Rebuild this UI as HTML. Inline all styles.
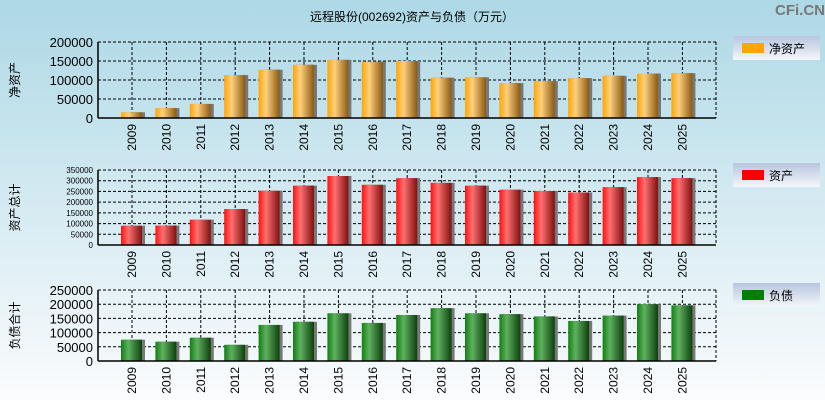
<!DOCTYPE html>
<html><head><meta charset="utf-8"><style>
body{margin:0;width:825px;height:400px;overflow:hidden;font-family:"Liberation Sans","Noto Sans CJK SC",sans-serif;}
</style></head><body>
<svg id="c" width="825" height="400" xmlns="http://www.w3.org/2000/svg">
<defs>
<linearGradient id="bg" x1="0" y1="0" x2="0" y2="1"><stop offset="0" stop-color="#add8e6"/><stop offset="1" stop-color="#fbfcfd"/></linearGradient>
<linearGradient id="lg" x1="0" y1="0" x2="0" y2="1"><stop offset="0" stop-color="#b8c6de"/><stop offset="1" stop-color="#f4f6fa"/></linearGradient>
<linearGradient id="g0" x1="0" x2="1"><stop offset="0" stop-color="#ffa500"/><stop offset="0.35" stop-color="#ffd080"/><stop offset="1" stop-color="#8a5a10"/></linearGradient>
<linearGradient id="g1" x1="0" x2="1"><stop offset="0" stop-color="#ff1010"/><stop offset="0.35" stop-color="#ff7070"/><stop offset="1" stop-color="#801010"/></linearGradient>
<linearGradient id="g2" x1="0" x2="1"><stop offset="0" stop-color="#108010"/><stop offset="0.35" stop-color="#60b060"/><stop offset="1" stop-color="#0c400c"/></linearGradient>
</defs>
<rect width="825" height="400" fill="url(#bg)"/>
<text x="412" y="21" font-size="12" text-anchor="middle">远程股份(002692)资产与负债（万元）</text>
<text x="800" y="15" font-size="15" font-weight="bold" fill="#777" text-anchor="middle">CFi.CN</text>
</svg>
<script>
const years=["2009","2010","2011","2012","2013","2014","2015","2016","2017","2018","2019","2020","2021","2022","2023","2024","2025"];
const netAssets=[15000,26000,37000,113000,127000,140000,153000,148000,150000,106000,107000,92000,97000,105000,111000,117000,118000];
const totalAssets=[90000,91000,118000,168000,253000,277000,322000,281000,312000,290000,277000,258000,252000,245000,270000,317000,312000];
const liabilities=[75000,68000,82000,57000,127000,138000,168000,134000,162000,186000,168000,165000,157000,141000,160000,200000,196000];
const ticks0=[0,50000,100000,150000,200000];
const ticks1=[0,50000,100000,150000,200000,250000,300000,350000];
const ticks2=[0,50000,100000,150000,200000,250000];
const svg=document.getElementById('c');
const NS='http://www.w3.org/2000/svg';
function mk(t,a,txt){const e=document.createElementNS(NS,t);for(const k in a)e.setAttribute(k,a[k]);if(txt!=null)e.textContent=txt;svg.appendChild(e);return e;}
const L=98,R=716;
function xPos(i){return 132+i*34.4;}
const panels=[
 {vals:netAssets,ticks:ticks0,top:42,bot:118,grad:'url(#g0)',col:'#ffa500',ylab:'净资产',leg:'净资产',fs:13,ly:36,key:'net-assets'},
 {vals:totalAssets,ticks:ticks1,top:170,bot:245,grad:'url(#g1)',col:'#ff0000',ylab:'资产总计',leg:'资产',fs:8,ly:163,key:'total-assets'},
 {vals:liabilities,ticks:ticks2,top:290,bot:361,grad:'url(#g2)',col:'#008000',ylab:'负债合计',leg:'负债',fs:13,ly:283,key:'liabilities'}
];
panels.forEach(p=>{
 const max=p.ticks[p.ticks.length-1];
 const y=v=>p.bot-(v/max)*(p.bot-p.top);
 p.ticks.forEach(t=>{
  if(t>0){const g=mk('line',{x1:L,x2:R,y1:y(t),y2:y(t),stroke:'#000','stroke-dasharray':'3,2'});
  
  }
  const tl=mk('text',{x:L-5,y:y(t)+(p.fs>10?5:3),'font-size':p.fs,'text-anchor':'end'},String(t));
  
  
 });
 years.forEach((yr,i)=>{
  const g=mk('line',{x1:xPos(i),x2:xPos(i),y1:p.top,y2:p.bot,stroke:'#000','stroke-dasharray':'3,2'});
  
  
 });
 mk('line',{x1:R,x2:R,y1:p.top,y2:p.bot,stroke:'#000','stroke-dasharray':'3,2'});
 p.vals.forEach((v,i)=>{
  const sh=mk('rect',{x:xPos(i)-10+2,y:y(v),width:21,height:p.bot-y(v),fill:'#777'});
  
  
  const b=mk('rect',{x:xPos(i)-11,y:y(v),width:21,height:p.bot-y(v),fill:p.grad});
  
  
 });
 const ax=mk('line',{x1:L,x2:L,y1:p.top,y2:p.bot,stroke:'#000','stroke-width':1.5});
 
 
 const bx=mk('line',{x1:L,x2:R,y1:p.bot,y2:p.bot,stroke:'#000','stroke-width':1.5});
 
 
 years.forEach((yr,i)=>{
  const t=mk('text',{x:0,y:0,'font-size':12,'text-anchor':'end',transform:`translate(${xPos(i)+4},${p.bot+6}) rotate(-90)`},yr);
  
  
 });
 const cy=(p.top+p.bot)/2;
 const yl=mk('text',{x:0,y:0,'font-size':12,'text-anchor':'middle',transform:`translate(19,${cy}) rotate(-90)`},p.ylab);
 
 
 const lb=mk('rect',{x:733,y:p.ly,width:87,height:24,fill:'url(#lg)'});
 
 
 const sw=mk('rect',{x:742,y:p.ly+7,width:22,height:10,fill:p.col});
 
 
 const lt=mk('text',{x:769,y:p.ly+17,'font-size':12},p.leg);
 
 
});
</script>
</body></html>
